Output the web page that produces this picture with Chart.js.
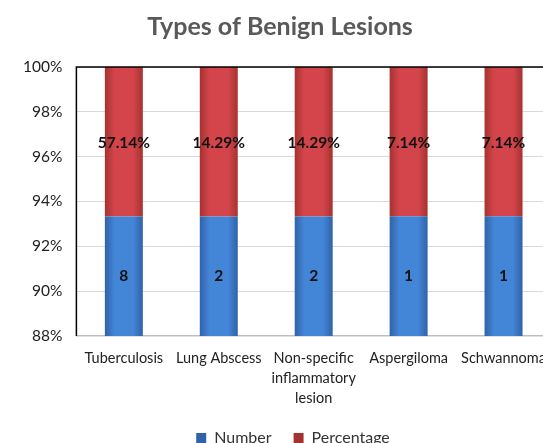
<!DOCTYPE html>
<html>
<head>
<meta charset="utf-8">
<script src="https://cdn.jsdelivr.net/npm/chart.js@4.4.1/dist/chart.umd.min.js"></script>
<style>
  html, body { margin: 0; padding: 0; background: #fff; overflow: hidden; }
  #wrap { width: 571px; height: 468px; }
</style>
</head>
<body>
<div id="wrap"><canvas id="chart"></canvas></div>
<script>
const categories = ['Tuberculosis', 'Lung Abscess', ['Non-specific', 'inflammatory', 'lesion'], 'Aspergiloma', 'Schwannoma'];
const numbers = [8, 2, 2, 1, 1];
const percentages = [57.14, 14.29, 14.29, 7.14, 7.14];
const yTicks = [88, 90, 92, 94, 96, 98, 100];

// 100% stacked: each segment as a share of (number + percentage/100)
const numberShare = numbers.map((n, i) => n / (n + percentages[i] / 100) * 100);
const pctShare = percentages.map((p, i) => (p / 100) / (numbers[i] + p / 100) * 100);

const FONT = 'Lato, "Open Sans", sans-serif';

const barGradient = (edge, mid) => (ctx) => {
  const chart = ctx.chart;
  const xs = chart.scales.x;
  if (!xs || ctx.dataIndex === undefined) return mid;
  const cx = xs.getPixelForValue(ctx.dataIndex);
  if (!isFinite(cx)) return mid;
  const g = chart.ctx.createLinearGradient(cx - 19, 0, cx + 19, 0);
  g.addColorStop(0, edge);
  g.addColorStop(0.25, mid);
  g.addColorStop(0.75, mid);
  g.addColorStop(1, edge);
  return g;
};

// labels centred in the visible part of each segment
const segmentLabels = {
  id: 'segmentLabels',
  afterDatasetsDraw(chart) {
    const { ctx, scales: { x, y } } = chart;
    ctx.save();
    ctx.font = 'bold 15.5px ' + FONT;
    ctx.fillStyle = '#111';
    ctx.textAlign = 'center';
    ctx.textBaseline = 'middle';
    categories.forEach((c, i) => {
      const cx = x.getPixelForValue(i);
      const lo = Math.max(y.min, 0);
      ctx.fillText(String(numbers[i]), cx, y.getPixelForValue((lo + numberShare[i]) / 2));
      ctx.fillText(percentages[i].toFixed(2) + '%', cx, y.getPixelForValue((numberShare[i] + 100) / 2) + 1);
    });
    ctx.restore();
  }
};

const plotFrame = {
  id: 'plotFrame',
  afterLayout(chart) {
    // legend sits a little right of centre and close under the labels
    const lg = chart.legend;
    lg.left += 13;
    lg.right += 13;
    lg.top -= 12;
    lg.bottom -= 12;
  },
  afterDraw(chart) {
    const { ctx, chartArea: a } = chart;
    ctx.save();
    ctx.strokeStyle = '#000';
    ctx.lineWidth = 1.5;
    ctx.beginPath();
    ctx.moveTo(a.left, a.bottom);
    ctx.lineTo(a.left, a.top);
    ctx.lineTo(a.right, a.top);
    ctx.stroke();
    ctx.restore();
  }
};

new Chart(document.getElementById('chart'), {
  type: 'bar',
  data: {
    labels: categories,
    datasets: [
      {
        label: 'Number',
        data: numberShare,
        backgroundColor: barGradient('#2f62a8', '#4385d6'),
        borderWidth: 0,
        barPercentage: 0.8,
        categoryPercentage: 0.5
      },
      {
        label: 'Percentage',
        data: pctShare,
        backgroundColor: barGradient('#a63230', '#d3454a'),
        borderWidth: 0,
        barPercentage: 0.8,
        categoryPercentage: 0.5
      }
    ]
  },
  options: {
    responsive: true,
    maintainAspectRatio: false,
    animation: false,
    layout: { padding: { left: 9, right: 20, top: 0, bottom: 0 } },
    scales: {
      x: {
        stacked: true,
        grid: { display: false, drawTicks: false },
        border: { color: '#bfbfbf', width: 1.5 },
        ticks: {
          color: '#222',
          font: { family: FONT, size: 14.5, lineHeight: 1.38 },
          maxRotation: 0,
          autoSkip: false,
          padding: 12
        }
      },
      y: {
        stacked: true,
        min: 88,
        max: 100,
        afterBuildTicks: (axis) => { axis.ticks = yTicks.map(v => ({ value: v })); },
        grid: { color: '#d9d9d9', drawTicks: false },
        border: { display: false },
        ticks: {
          color: '#222',
          font: { family: FONT, size: 15.5 },
          padding: 14,
          callback: (v) => v + '%'
        }
      }
    },
    plugins: {
      title: {
        display: true,
        text: 'Types of Benign Lesions',
        color: '#595959',
        font: { family: FONT, size: 25, weight: 'bold', lineHeight: 1.2 },
        padding: { top: 12, bottom: 25 }
      },
      legend: {
        position: 'bottom',
        labels: {
          color: '#333',
          font: { family: FONT, size: 16 },
          boxWidth: 10,
          boxHeight: 10,
          padding: 22
        }
      },
      tooltip: { enabled: false }
    }
  },
  plugins: [segmentLabels, plotFrame]
});
</script>
</body>
</html>
